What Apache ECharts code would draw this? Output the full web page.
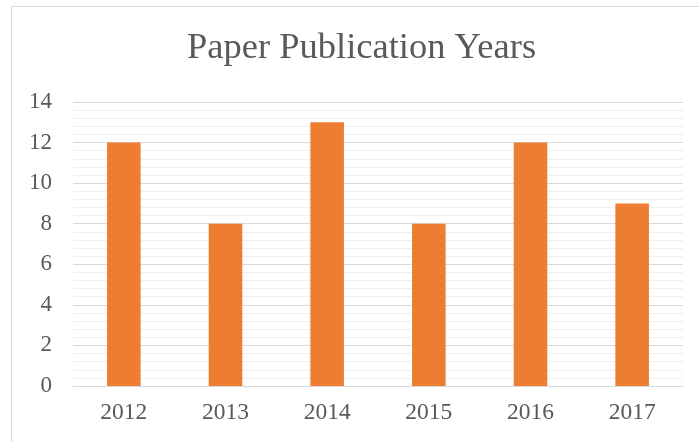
<!DOCTYPE html>
<html>
<head>
<meta charset="utf-8">
<script src="https://cdn.jsdelivr.net/npm/echarts@6/dist/echarts.min.js"></script>
<style>
html,body{margin:0;padding:0;background:#fff;}
#chart{width:699px;height:442px;}
</style>
</head>
<body>
<div id="chart"></div>
<script>
const titleText = 'Paper Publication Years';
const categories = ['2012', '2013', '2014', '2015', '2016', '2017'];
const publications = [12, 8, 13, 8, 12, 9];
const yTicks = [0, 2, 4, 6, 8, 10, 12, 14];

const chart = echarts.init(document.getElementById('chart'), null, {renderer: 'canvas'});
const font = '"Liberation Serif", "Times New Roman", serif';
chart.setOption({
  animation: false,
  backgroundColor: '#ffffff',
  graphic: [{
    type: 'rect',
    shape: {x: 11.5, y: 6.5, width: 720, height: 460},
    style: {fill: 'none', stroke: '#d9d9d9', lineWidth: 1},
    silent: true
  }],
  title: {
    text: titleText,
    left: 182,
    top: 25,
    textStyle: {fontFamily: font, fontSize: 36.5, fontWeight: 'normal', color: '#595959'}
  },
  grid: {left: 73, right: 16, top: 102, bottom: 56, containLabel: false},
  xAxis: {
    type: 'category',
    data: categories,
    axisLine: {show: true, lineStyle: {color: '#d9d9d9', width: 1}},
    axisTick: {show: false},
    axisLabel: {fontFamily: font, fontSize: 23.5, color: '#595959', margin: 15}
  },
  yAxis: {
    type: 'value',
    min: yTicks[0],
    max: yTicks[yTicks.length - 1],
    interval: 2,
    axisLine: {show: false},
    axisTick: {show: false},
    axisLabel: {fontFamily: font, fontSize: 23, color: '#595959', margin: 21},
    splitLine: {show: true, lineStyle: {color: '#d9d9d9', width: 1}},
    minorTick: {show: false, splitNumber: 5},
    minorSplitLine: {show: true, lineStyle: {color: '#efefef', width: 1}}
  },
  series: [{
    type: 'bar',
    data: publications,
    barWidth: '33%',
    itemStyle: {color: '#ED7D31'}
  }]
});
</script>
</body>
</html>
